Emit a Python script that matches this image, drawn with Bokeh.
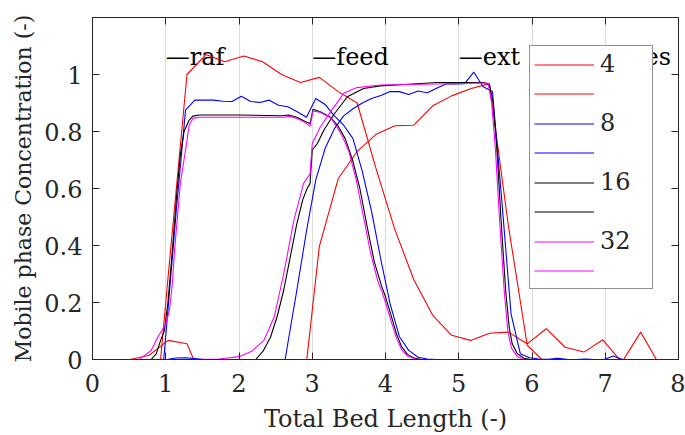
from bokeh.plotting import figure
from bokeh.models import (Range1d, LinearAxis, FixedTicker, Legend, LegendItem)
from bokeh.core.properties import value
from bokeh.embed import file_html
from bokeh.resources import INLINE

# ---------------- data ----------------
# N = 4 (coarse grid, 32 nodes)
x4 = [0.0, 0.258, 0.516, 0.774, 1.032, 1.290, 1.548, 1.806, 2.065, 2.323, 2.581,
      2.839, 3.097, 3.355, 3.613, 3.871, 4.129, 4.387, 4.645, 4.903, 5.161, 5.419,
      5.677, 5.935, 6.194, 6.452, 6.710, 6.968, 7.226, 7.484, 7.742, 8.0]
y4_a = [0, 0, 0, -0.44, 0.29, 1.0, 1.07, 1.045, 1.065, 1.045, 1.0,
        0.972, 0.99, 0.94, 0.90, 0.67, 0.455, 0.28, 0.155, 0.085, 0.067, 0.092,
        0.096, 0.055, 0.108, 0.043, 0.026, 0.069, -0.01, 0.096, -0.02, 0.0]
y4_b = [0, 0, 0, 0.015, 0.067, 0.055, -0.1, 0, 0, 0, 0,
        -0.2, 0.397, 0.635, 0.73, 0.79, 0.82, 0.822, 0.89, 0.925, 0.95, 0.968,
        0.47, 0.05, -0.015, 0, 0, 0, 0, 0, 0, 0]

# N = 8 (64 nodes)
x8 = [0.0, 0.127, 0.254, 0.381, 0.508, 0.635, 0.762, 0.889, 1.016, 1.143, 1.270,
      1.397, 1.524, 1.651, 1.778, 1.905, 2.032, 2.159, 2.286, 2.413, 2.540, 2.667,
      2.794, 2.921, 3.048, 3.175, 3.302, 3.429, 3.556, 3.683, 3.810, 3.937, 4.063,
      4.190, 4.317, 4.444, 4.571, 4.698, 4.825, 4.952, 5.079, 5.206, 5.333, 5.460,
      5.587, 5.714, 5.841, 5.968, 6.095, 6.222, 6.349, 6.476, 6.603, 6.730, 6.857,
      6.984, 7.111, 7.238, 7.365, 7.492, 7.619, 7.746, 7.873, 8.0]
y8_a = [0, 0, 0, 0, 0, 0, 0, -0.25, 0.13, 0.52, 0.875,
        0.91, 0.91, 0.91, 0.906, 0.905, 0.924, 0.905, 0.902, 0.91, 0.892, 0.887,
        0.869, 0.85, 0.916, 0.895, 0.855, 0.822, 0.775, 0.66, 0.52, 0.35, 0.195,
        0.08, 0.032, 0.008, 0.002, 0, 0, 0, 0, 0, 0, 0,
        0, 0, 0, 0, 0, 0, 0, 0, 0, 0, 0,
        0, 0, 0, 0, 0, 0, 0, 0, 0]
y8_b = [0, 0, 0, 0, 0, 0, 0, 0, 0, 0.005, 0.006,
        0.003, 0, 0, 0, 0, 0, 0, 0, 0, -0.14, 0.057,
        0.25, 0.45, 0.63, 0.74, 0.81, 0.855, 0.88, 0.9, 0.916, 0.926, 0.94,
        0.94, 0.93, 0.942, 0.936, 0.952, 0.967, 0.967, 0.968, 1.008, 0.957, 0.94,
        0.56, 0.16, 0.02, 0.006, 0.002, 0.001, 0.004, 0.001, 0, 0.002, 0,
        0, 0.012, 0, 0, 0, 0, 0, 0, 0]

# N = 16
x16_a = [0, 0.8, 0.87, 0.93, 0.98, 1.03, 1.09, 1.15, 1.2, 1.25, 1.32, 1.37, 1.46,
         2.0, 2.57, 2.68, 2.79, 2.91, 2.97, 3.01, 3.11, 3.25, 3.35, 3.45, 3.55,
         3.65, 3.75, 3.85, 3.95, 4.0, 4.07, 4.15, 4.22, 4.3, 4.4, 4.5, 8.0]
y16_a = [0, 0, 0.02, 0.067, 0.10, 0.2, 0.383, 0.58, 0.72, 0.80, 0.84, 0.854, 0.858,
         0.858, 0.855, 0.858, 0.85, 0.834, 0.828, 0.878, 0.869, 0.85, 0.82, 0.775, 0.70,
         0.60, 0.465, 0.34, 0.255, 0.22, 0.16, 0.09, 0.045, 0.018, 0.004, 0, 0]
x16_b = [0, 2.23, 2.33, 2.43, 2.52, 2.61, 2.70, 2.79, 2.87, 2.93, 2.97, 3.0, 3.07,
         3.16, 3.29, 3.48, 3.70, 3.93, 4.25, 4.71, 5.34, 5.42, 5.47, 5.52, 5.58,
         5.64, 5.69, 5.73, 5.8, 5.9, 6.0, 8.0]
y16_b = [0, 0, 0.03, 0.078, 0.15, 0.243, 0.36, 0.477, 0.56, 0.6, 0.617, 0.735, 0.758,
         0.805, 0.858, 0.922, 0.951, 0.96, 0.965, 0.972, 0.972, 0.963, 0.9, 0.74, 0.48,
         0.243, 0.11, 0.055, 0.02, 0.003, 0, 0]

# N = 32
x32_a = [0, 0.64, 0.8, 0.89, 0.96, 1.0, 1.05, 1.09, 1.12, 1.2, 1.27, 1.32, 1.37, 1.46,
         2.0, 2.6, 2.7, 2.8, 2.9, 2.97, 3.01, 3.1, 3.25, 3.3, 3.4, 3.5, 3.6, 3.7,
         3.8, 3.9, 3.95, 4.0, 4.07, 4.15, 4.22, 4.3, 4.4, 4.5, 8.0]
y32_a = [0, 0, 0.032, 0.078, 0.108, 0.125, 0.172, 0.266, 0.383, 0.62, 0.735, 0.822, 0.846, 0.85,
         0.85, 0.85, 0.853, 0.845, 0.832, 0.818, 0.872, 0.868, 0.848, 0.83, 0.79, 0.73, 0.63, 0.5,
         0.37, 0.27, 0.24, 0.2, 0.14, 0.075, 0.035, 0.012, 0.002, 0, 0]
x32_b = [0, 1.4, 1.73, 2.0, 2.18, 2.34, 2.48, 2.61, 2.75, 2.88, 2.97, 3.0, 3.11,
         3.25, 3.43, 3.61, 3.93, 4.5, 5.4, 5.45, 5.5, 5.56, 5.62, 5.67, 5.72, 5.8,
         5.9, 8.0]
y32_b = [0, 0, 0.002, 0.01, 0.03, 0.067, 0.149, 0.30, 0.489, 0.617, 0.652, 0.758, 0.816,
         0.869, 0.934, 0.954, 0.963, 0.966, 0.97, 0.9, 0.74, 0.48, 0.243, 0.1, 0.04, 0.01,
         0, 0]

zone_x = [1, 3, 5, 7]
zone_labels = ["\u2014raf", "\u2014feed", "\u2014ext", "\u2014des"]
zone_label_y = [1.06, 1.06, 1.06, 1.06]

x_ticks = [0, 1, 2, 3, 4, 5, 6, 7, 8]
y_ticks = [0, 0.2, 0.4, 0.6, 0.8, 1]
y_tick_labels = ["0", "0.2", "0.4", "0.6", "0.8", "1"]

# ---------------- figure ----------------
FONT = "DejaVu Serif"
AX = "#262626"

p = figure(width=685, height=435, output_backend="svg", toolbar_location=None,
           x_range=Range1d(0, 8), y_range=Range1d(0, 1.2),
           min_border_left=92, min_border_right=7, min_border_top=17,
           min_border_bottom=76, x_axis_label="Total Bed Length (-)",
           y_axis_label="Mobile phase Concentration (-)")
p.outline_line_color = AX
p.outline_line_width = 1
p.background_fill_color = "white"
p.border_fill_color = "white"

p.xaxis.ticker = FixedTicker(ticks=x_ticks)
p.yaxis.ticker = FixedTicker(ticks=y_ticks)
p.yaxis.major_label_overrides = {t: s for t, s in zip(y_ticks, y_tick_labels)}

for ax in [p.xaxis[0], p.yaxis[0]]:
    ax.axis_line_color = AX
    ax.major_tick_line_color = AX
    ax.major_tick_in = 7
    ax.major_tick_out = 0
    ax.minor_tick_line_color = None
    ax.major_label_text_font = FONT
    ax.major_label_text_font_size = "24px"
    ax.major_label_text_color = AX
    ax.axis_label_text_font = FONT
    ax.axis_label_text_font_style = "normal"
    ax.axis_label_text_color = AX
p.xaxis.axis_label_text_font_size = "24px"
p.yaxis.axis_label_text_font_size = "22px"
p.xaxis.major_label_standoff = 14
p.yaxis.major_label_standoff = 10
p.xaxis.axis_label_standoff = 10
p.yaxis.axis_label_standoff = 5

ax_r = LinearAxis(ticker=FixedTicker(ticks=y_ticks), major_label_text_font_size="1px",
                  major_label_text_color=None, major_tick_in=7, major_tick_out=0,
                  minor_tick_line_color=None, axis_line_color=AX,
                  major_tick_line_color=AX, major_label_standoff=0)
ax_t = LinearAxis(ticker=FixedTicker(ticks=x_ticks), major_label_text_font_size="1px",
                  major_label_text_color=None, major_tick_in=7, major_tick_out=0,
                  minor_tick_line_color=None, axis_line_color=AX,
                  major_tick_line_color=AX, major_label_standoff=0)
p.add_layout(ax_r, "right")
p.add_layout(ax_t, "above")

p.xgrid.grid_line_color = "#dcdcdc"
p.ygrid.grid_line_color = None

# zone labels (drawn below legend)
p.text(x=zone_x, y=zone_label_y, text=zone_labels, text_font=value(FONT),
       text_font_size="24px", text_baseline="middle", text_align="left",
       text_color="black")

series = [
    ("4", "#ff0000", x4, y4_a, x4, y4_b),
    ("8", "#0000ff", x8, y8_a, x8, y8_b),
    ("16", "#000000", x16_a, y16_a, x16_b, y16_b),
    ("32", "#ff00ff", x32_a, y32_a, x32_b, y32_b),
]
items = []
for lab, col, xa, ya, xb, yb in series:
    ra = p.line(xa, ya, line_color=col, line_width=1.1)
    rb = p.line(xb, yb, line_color=col, line_width=1.1)
    items.append(LegendItem(label=lab, renderers=[ra]))
    items.append(LegendItem(label=" ", renderers=[rb]))

legend = Legend(items=items, location=(437, 70), border_line_color=AX,
                border_line_width=1, background_fill_color="white",
                background_fill_alpha=1, label_text_font=FONT,
                label_text_font_size="24px", label_text_color=AX,
                glyph_width=60, glyph_height=27, label_height=27,
                label_width=48, label_standoff=6, spacing=2, padding=4,
                margin=0)
p.add_layout(legend)

open("out.html", "w").write(file_html(p, INLINE))
